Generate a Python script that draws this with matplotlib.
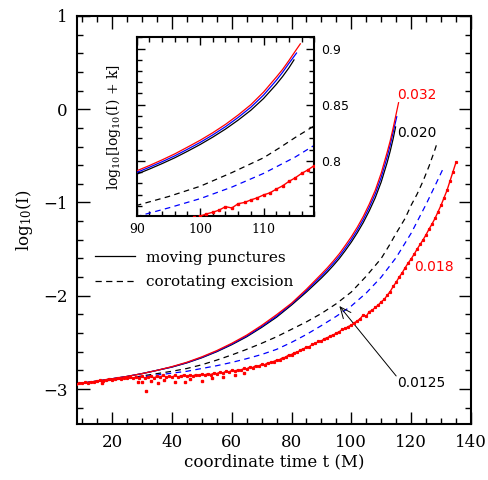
import numpy as np
import matplotlib.pyplot as plt
from matplotlib.lines import Line2D
from matplotlib.ticker import MultipleLocator

plt.rcParams['font.family'] = 'DejaVu Serif'
plt.rcParams['mathtext.fontset'] = 'dejavuserif'

# offset used in the inset: log10[log10(I) + k]
k_off = 7.95

# moving punctures (solid lines)
t_mp = [8, 15, 20, 25, 30, 35, 40, 45, 50, 55, 60, 65, 70, 75, 80, 85, 90,
        92, 94, 96, 98, 100, 102, 104, 106, 108, 110, 112, 113, 114]
mp_020 = [-2.945, -2.915, -2.89, -2.865, -2.835, -2.80, -2.765, -2.72, -2.665,
          -2.60, -2.525, -2.44, -2.34, -2.23, -2.10, -1.96, -1.81, -1.745,
          -1.675, -1.60, -1.515, -1.425, -1.325, -1.215, -1.09, -0.95, -0.78,
          -0.57, -0.45, -0.315]
mp_0125 = [-2.945, -2.915, -2.89, -2.865, -2.835, -2.80, -2.763, -2.717, -2.661,
           -2.595, -2.518, -2.432, -2.33, -2.218, -2.088, -1.945, -1.788, -1.722,
           -1.651, -1.575, -1.488, -1.397, -1.295, -1.182, -1.052, -0.907, -0.73,
           -0.51, -0.385, -0.245]
mp_032 = [-2.945, -2.915, -2.89, -2.865, -2.835, -2.80, -2.76, -2.713, -2.655,
          -2.588, -2.51, -2.422, -2.318, -2.203, -2.08, -1.93, -1.767, -1.70,
          -1.627, -1.549, -1.46, -1.368, -1.265, -1.15, -1.018, -0.87, -0.685,
          -0.46, -0.34, -0.20]
t_mp_020 = t_mp + [114.8]
mp_020 = mp_020 + [-0.19]
t_mp_0125 = t_mp + [115.2]
mp_0125 = mp_0125 + [-0.08]
t_mp_032 = t_mp + [115, 115.8]
mp_032 = mp_032 + [-0.05, 0.07]

# corotating excision (dashed lines)
t_ce_020 = [8, 15, 20, 25, 30, 35, 40, 45, 50, 55, 60, 65, 70, 75, 80, 85, 90,
            95, 100, 105, 110, 112.5, 115, 118, 120, 122, 124, 126, 128, 128.6]
ce_020 = [-2.945, -2.92, -2.905, -2.885, -2.86, -2.835, -2.81, -2.78, -2.74,
          -2.69, -2.635, -2.575, -2.51, -2.44, -2.36, -2.28, -2.19, -2.085,
          -1.96, -1.79, -1.60, -1.47, -1.33, -1.17, -1.03, -0.91, -0.77,
          -0.61, -0.43, -0.37]
t_ce_0125 = [8, 15, 20, 25, 30, 35, 40, 45, 50, 55, 60, 65, 70, 75, 80, 85, 90,
             95, 100, 105, 110, 115, 120, 125, 128, 130.8]
ce_0125 = [-2.945, -2.92, -2.90, -2.885, -2.87, -2.85, -2.83, -2.81, -2.78,
           -2.75, -2.715, -2.675, -2.63, -2.575, -2.50, -2.415, -2.32, -2.22,
           -2.11, -1.97, -1.80, -1.59, -1.33, -1.02, -0.82, -0.63]

# corotating excision, 0.018 (noisy red points)
t_ce_018 = np.arange(8, 136)
ce_018 = [-2.945, -2.94, -2.94, -2.93, -2.935, -2.925, -2.92, -2.915, -2.905, -2.915,
          -2.90, -2.895, -2.90, -2.89, -2.885, -2.895, -2.88, -2.885, -2.875, -2.885,
          -2.87, -2.88, -2.865, -2.885, -2.87, -2.86, -2.88, -2.865, -2.875, -2.855,
          -2.87, -2.865, -2.875, -2.855, -2.87, -2.86, -2.85, -2.865, -2.85, -2.86,
          -2.845, -2.855, -2.84, -2.85, -2.835, -2.845, -2.83, -2.835, -2.82, -2.83,
          -2.81, -2.82, -2.80, -2.81, -2.795, -2.80, -2.78, -2.785, -2.765, -2.77,
          -2.75, -2.755, -2.735, -2.74, -2.72, -2.715, -2.705, -2.69, -2.685, -2.665,
          -2.66, -2.635, -2.63, -2.61, -2.605, -2.58, -2.57, -2.55, -2.545, -2.52,
          -2.51, -2.49, -2.485, -2.46, -2.45, -2.43, -2.42, -2.40, -2.385, -2.36,
          -2.35, -2.33, -2.315, -2.29, -2.27, -2.245, -2.205, -2.22, -2.17, -2.155,
          -2.125, -2.10, -2.065, -2.04, -1.995, -1.955, -1.90, -1.855, -1.80, -1.755,
          -1.70, -1.65, -1.605, -1.555, -1.50, -1.45, -1.40, -1.345, -1.285, -1.23,
          -1.17, -1.10, -1.03, -0.95, -0.87, -0.77, -0.67, -0.57]
# stray points below the band at early times
t_stray = [16.5, 28.5, 30, 31.5, 33, 35.5, 37.5, 41, 44.5, 46, 50, 53.5, 57, 61, 64]
y_stray = [-2.935, -2.92, -2.93, -3.02, -2.91, -2.935, -2.90, -2.925, -2.92,
           -2.895, -2.915, -2.885, -2.87, -2.85, -2.83]

RED = '#ff0000'
BLUE = '#0000ff'
dash = (0, (4.5, 3.5))


def style_axes(a, lw=1.5):
    for s in a.spines.values():
        s.set_linewidth(lw)


def draw_curves(a, f, ms):
    a.plot(t_ce_020, f(ce_020), color='k', lw=0.9, ls=dash, zorder=2)
    a.plot(t_ce_0125, f(ce_0125), color=BLUE, lw=0.9, ls=dash, zorder=2)
    a.plot(t_mp_020, f(mp_020), color='k', lw=0.9, zorder=3)
    a.plot(t_mp_0125, f(mp_0125), color=BLUE, lw=0.9, zorder=3)
    a.plot(t_mp_032, f(mp_032), color=RED, lw=0.9, zorder=3)
    a.plot(t_ce_018, f(ce_018), color=RED, lw=1.0, marker='s', ms=ms,
           mec=RED, mfc=RED, zorder=4)


fig = plt.figure(figsize=(4.88, 4.80), dpi=100)
ax = fig.add_axes([0.158, 0.1167, 0.807, 0.85])

draw_curves(ax, lambda y: np.asarray(y), 1.3)
ax.plot(t_stray, y_stray, 's', color=RED, ms=1.5, zorder=4)

ax.set_xlim(8.3, 140)
ax.set_ylim(-3.375, 1)
ax.xaxis.set_major_locator(MultipleLocator(20))
ax.xaxis.set_minor_locator(MultipleLocator(5))
ax.yaxis.set_major_locator(MultipleLocator(1))
ax.yaxis.set_minor_locator(MultipleLocator(0.2))
ax.tick_params(which='both', direction='in', top=True, right=True, labelsize=12)
ax.tick_params(which='major', length=9, width=1.0, pad=7)
ax.tick_params(which='minor', length=4.5, width=1.0)
style_axes(ax)
ax.set_xlabel('coordinate time t (M)', fontsize=12, labelpad=2)
ax.set_ylabel('log$_{10}$(I)', fontsize=12, labelpad=6)

handles = [Line2D([], [], color='k', lw=0.9),
           Line2D([], [], color='k', lw=0.9, ls=(0, (5, 3.5)))]
ax.legend(handles, ['moving punctures', 'corotating excision'],
          loc='upper left', bbox_to_anchor=(0.045, 0.425), frameon=False,
          fontsize=11, handlelength=2.6, handletextpad=0.75,
          labelspacing=0.7, borderpad=0, borderaxespad=0)

sans = 'DejaVu Sans'
ax.text(115.3, 0.15, '0.032', color=RED, fontsize=10, family=sans, va='center')
ax.text(115.3, -0.25, '0.020', color='k', fontsize=10, family=sans, va='center')
ax.text(121, -1.69, '0.018', color=RED, fontsize=10, family=sans, va='center')
ax.text(115.3, -2.94, '0.0125', color='k', fontsize=10, family=sans, va='center')
ax.annotate('', xy=(96, -2.11), xytext=(115, -2.86),
            arrowprops=dict(arrowstyle='->,head_length=0.8,head_width=0.35',
                            color='k', lw=0.7, shrinkA=0, shrinkB=0))

# inset: zoom on the late inspiral
axi = fig.add_axes([0.2801, 0.55, 0.3639, 0.3723])
draw_curves(axi, lambda y: np.log10(np.asarray(y) + k_off), 1.5)
axi.set_xlim(90, 118)
axi.set_ylim(0.751, 0.91)
axi.xaxis.set_major_locator(MultipleLocator(10))
axi.xaxis.set_minor_locator(MultipleLocator(2))
axi.yaxis.set_major_locator(MultipleLocator(0.05))
axi.yaxis.set_minor_locator(MultipleLocator(0.01))
axi.tick_params(which='both', direction='in', top=True, right=True,
                left=True, labelleft=False, labelright=True)
axi.tick_params(which='major', length=6, width=1.0, pad=5)
axi.tick_params(which='minor', length=3.5, width=1.0)
axi.tick_params(axis='x', labelsize=9)
axi.tick_params(axis='y', labelsize=9)
axi.yaxis.set_major_formatter(plt.FuncFormatter(lambda v, p: f'{v:g}'))
for lab in axi.get_yticklabels():
    lab.set_family(sans)
style_axes(axi)
axi.set_ylabel('log$_{10}$[log$_{10}$(I) + k]', fontsize=10, labelpad=10)

fig.savefig('out.png', dpi=100)
